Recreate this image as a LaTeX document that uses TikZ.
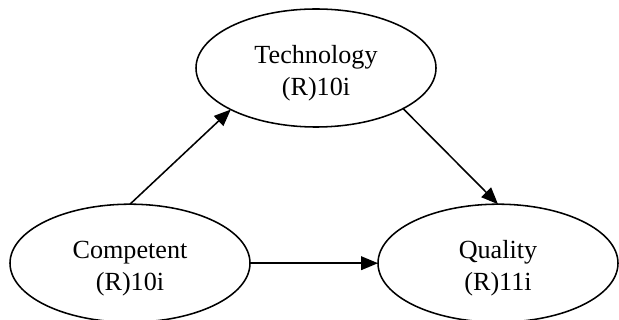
\documentclass[tikz,border=0pt]{standalone}
\usepackage{fontspec}
\setmainfont{Liberation Serif}
\usepackage{tikz}
\usetikzlibrary{arrows.meta,positioning,shapes.geometric}
\newcommand{\twolines}[2]{%
  \raisebox{-3.5pt}[\height][\depth]{\begin{tabular}{@{}c@{}}#1\\#2\end{tabular}}}
\tikzset{
  construct/.style={ellipse,draw=black,line width=1.1pt,
                    minimum width=6cm,minimum height=2.95cm,
                    inner sep=0pt,outer sep=0pt,
                    font=\fontsize{18.6}{22.5}\selectfont},
  patharr/.style={-{Triangle[length=0.42cm,width=0.34cm]},line width=1.1pt,
                  draw=black}
}

\begin{document}
\begin{tikzpicture}[x=1cm,y=1cm]
    \path[use as bounding box] (0,0) rectangle (15.475,8);

    \node[construct] (tech) at (7.9,6.3)
      {\twolines{Technology}{(R)10i}};
    \node[construct] (comp) at (3.25,1.42)
      {\twolines{Competent}{(R)10i}};
    \node[construct] (qual) at (12.45,1.42)
      {\twolines{Quality}{(R)11i}};
    \draw[patharr] (comp.north) -- (tech.206);
    \draw[patharr] (tech.-25) -- (qual.north);
    \draw[patharr] (comp.east) -- (qual.west);
  \end{tikzpicture}
\end{document}
